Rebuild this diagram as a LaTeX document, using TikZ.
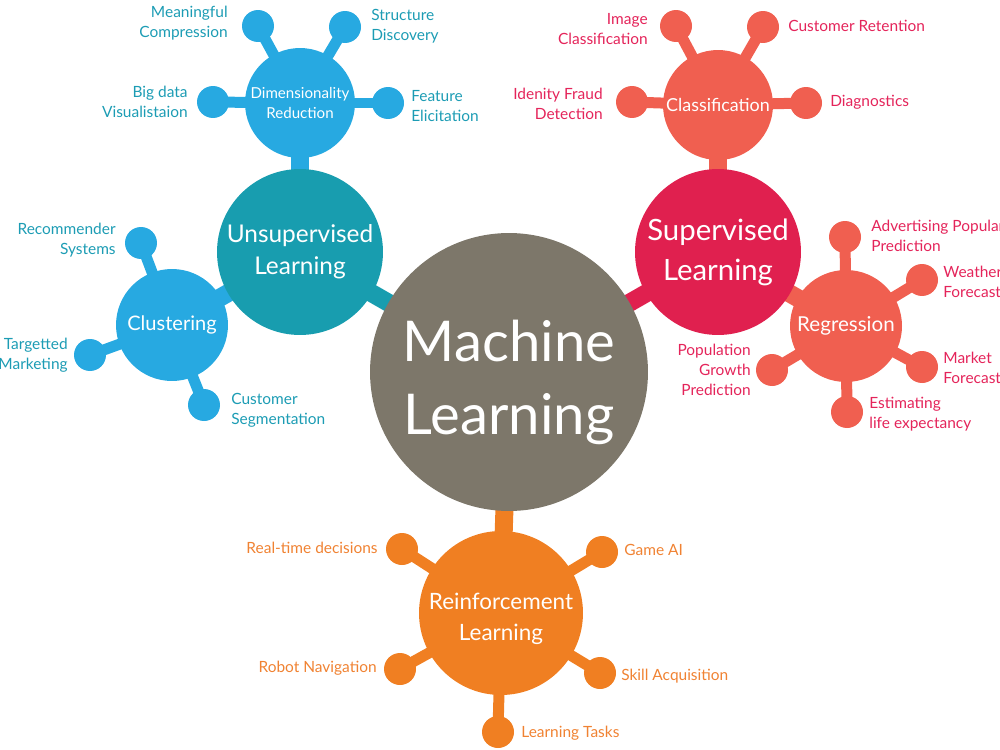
\documentclass[tikz,border=0pt]{standalone}
\usepackage{fontspec}
\setmainfont{Lato}
\usetikzlibrary{backgrounds}
\definecolor{mlgray}{HTML}{7D776A}
\definecolor{ulteal}{HTML}{189DAF}
\definecolor{skyblue}{HTML}{27A9E1}
\definecolor{bluetext}{HTML}{1C9CB4}
\definecolor{slred}{HTML}{E0204F}
\definecolor{salmon}{HTML}{F05F50}
\definecolor{redtext}{HTML}{E4245A}
\definecolor{rlorange}{HTML}{F07F22}
\definecolor{orangetext}{HTML}{F08232}
\tikzset{
  hub/.style={circle,fill=#1,text=white,align=center,inner sep=0pt},
  hubtext/.style={text=white,align=center,inner sep=0pt},
  leaf/.style={circle,fill=#1,minimum size=0.64cm,inner sep=0pt},
  trunk/.style={draw=#1,line width=0.36cm},
  twig/.style={draw=#1,line width=0.22cm},
  lbl/.style={text=#1,inner sep=0pt,font=\fontsize{8.8}{11.4}\selectfont},
  lbll/.style={lbl=#1,anchor=west,align=left},
  lblr/.style={lbl=#1,anchor=east,align=right}
}
\begin{document}
\begin{tikzpicture}[x=0.02cm,y=-0.02cm]
    \useasboundingbox (0,0) rectangle (1000,750);

    \node[hub=mlgray,minimum size=5.56cm,
      label={[hubtext,yshift=-0.2cm,font=\fontsize{32}{41.5}\selectfont]center:Machine\\Learning}] (ml) at (509,372) {};

    \node[hub=ulteal,minimum size=3.32cm,font=\fontsize{13.9}{18}\selectfont] (ul) at (300,252) {Unsupervised\\Learning};
    \node[hub=skyblue,minimum size=2.2cm,font=\fontsize{8.6}{11}\selectfont] (dr) at (300,103) {Dimensionality\\Reduction};
    \node[hub=skyblue,minimum size=2.24cm,font=\fontsize{11.4}{14}\selectfont] (cl) at (172,325) {Clustering};

    \node[hub=slred,minimum size=3.32cm,font=\fontsize{16.7}{22.8}\selectfont] (sl) at (718,252) {Supervised\\Learning};
    \node[hub=salmon,minimum size=2.2cm,font=\fontsize{10.2}{12}\selectfont] (cf) at (718,105) {Classification};
    \node[hub=salmon,minimum size=2.24cm,font=\fontsize{11.7}{14}\selectfont] (rg) at (846,326) {Regression};

    \node[hub=rlorange,minimum size=3.28cm,
      label={[hubtext,yshift=-0.12cm,font=\fontsize{12.8}{17.7}\selectfont]center:Reinforcement\\Learning}] (rl) at (501,613) {};

    \node[leaf=skyblue] (mc) at (258,26) {};
    \node[leaf=skyblue] (sd) at (345,27) {};
    \node[leaf=skyblue] (bd) at (213,102) {};
    \node[leaf=skyblue] (fe) at (388,103) {};
    \node[leaf=skyblue] (rs) at (141,243) {};
    \node[leaf=skyblue] (tm) at (90,355) {};
    \node[leaf=skyblue] (cs) at (204,405) {};

    \node[leaf=salmon] (ic) at (676,26) {};
    \node[leaf=salmon] (cr) at (763,27) {};
    \node[leaf=salmon] (id) at (632,102) {};
    \node[leaf=salmon] (dg) at (806,103) {};
    \node[leaf=salmon] (ap) at (845,237) {};
    \node[leaf=salmon] (wf) at (922,280) {};
    \node[leaf=salmon] (mf) at (922,367) {};
    \node[leaf=salmon] (le) at (847,412) {};
    \node[leaf=salmon] (pg) at (772,370) {};

    \node[leaf=rlorange] (rt) at (402,549) {};
    \node[leaf=rlorange] (ga) at (602,552) {};
    \node[leaf=rlorange] (rn) at (400,669) {};
    \node[leaf=rlorange] (sa) at (600,673) {};
    \node[leaf=rlorange] (lt) at (498,732) {};

    \begin{scope}[on background layer]
        \draw[trunk=ulteal] (ml.center) -- (ul.center);
        \draw[trunk=slred] (ml.center) -- (sl.center);
        \draw[trunk=rlorange] (ml.center) -- (rl.center);
        \draw[trunk=skyblue] (ul.center) -- (dr.center);
        \draw[trunk=skyblue] (ul.center) -- (cl.center);
        \draw[trunk=salmon] (sl.center) -- (cf.center);
        \draw[trunk=salmon] (sl.center) -- (rg.center);
        \foreach \l in {mc,sd,bd,fe} \draw[twig=skyblue] (dr.center) -- (\l.center);
        \foreach \l in {rs,tm,cs} \draw[twig=skyblue] (cl.center) -- (\l.center);
        \foreach \l in {ic,cr,id,dg} \draw[twig=salmon] (cf.center) -- (\l.center);
        \foreach \l in {ap,wf,mf,le,pg} \draw[twig=salmon] (rg.center) -- (\l.center);
        \foreach \l in {rt,ga,rn,sa,lt} \draw[twig=rlorange] (rl.center) -- (\l.center);
    \end{scope}

    \node[lblr=bluetext] (mct) at (228,23) {Meaningful\\Compression};
    \node[lbll=bluetext] (sdt) at (371,26) {Structure\\Discovery};
    \node[lblr=bluetext] (bdt) at (188,102) {Big data\\Visualistaion};
    \node[lbll=bluetext] (fet) at (411,106) {Feature\\Elicitation};
    \node[lblr=bluetext] (rst) at (116,240) {Recommender\\Systems};
    \node[lblr=bluetext] (tmt) at (68,355) {Targetted\\Marketing};
    \node[lbll=bluetext] (cst) at (231,410) {Customer\\Segmentation};

    \node[lblr=redtext] (ict) at (648,29) {Image\\Classification};
    \node[lbll=redtext] (crt) at (788,26) {Customer Retention};
    \node[lblr=redtext] (idt) at (603,104) {Idenity Fraud\\Detection};
    \node[lbll=redtext] (dgt) at (830,102) {Diagnostics};
    \node[lbll=redtext] (apt) at (871,236) {Advertising Popular\\Prediction};
    \node[lbll=redtext] (wft) at (943,282) {Weather\\Forecast};
    \node[lbll=redtext] (mft) at (943,368) {Market\\Forecast};
    \node[lbll=redtext] (let) at (869,414) {Estimating\\life expectancy};
    \node[lblr=redtext] (pgt) at (751,370) {Population\\Growth\\Prediction};

    \node[lblr=orangetext] (rtt) at (378,548) {Real-time decisions};
    \node[lbll=orangetext] (gat) at (624,550) {Game AI};
    \node[lblr=orangetext] (rnt) at (377,668) {Robot Navigation};
    \node[lbll=orangetext] (sat) at (621,676) {Skill Acquisition};
    \node[lbll=orangetext] (ltt) at (521,733) {Learning Tasks};
\end{tikzpicture}
\end{document}
